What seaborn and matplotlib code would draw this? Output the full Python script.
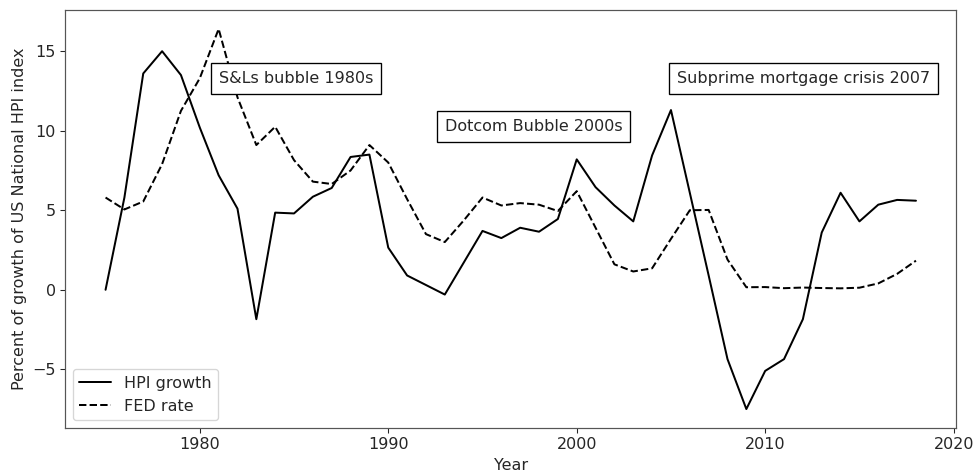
import matplotlib
matplotlib.use("Agg")
import matplotlib.pyplot as plt
import seaborn as sns
import pandas as pd

# Annual figures, 1975-2018
years = list(range(1975, 2019))

hpi_growth = [
    0.0, 5.8, 13.6, 15.0, 13.5, 10.2, 7.2, 5.1, -1.85, 4.85,
    4.8, 5.85, 6.4, 8.35, 8.5, 2.65, 0.9, 0.3, -0.3, 1.7,
    3.7, 3.25, 3.9, 3.65, 4.45, 8.2, 6.45, 5.3, 4.3, 8.45,
    11.3, 6.1, 0.9, -4.36, -7.5, -5.1, -4.36, -1.85, 3.6, 6.1,
    4.3, 5.35, 5.65, 5.6,
]

fed_rate = [
    5.8, 5.05, 5.55, 7.9, 11.25, 13.3, 16.4, 12.1, 9.1, 10.25,
    8.15, 6.8, 6.65, 7.5, 9.1, 8.0, 5.7, 3.5, 3.0, 4.35,
    5.8, 5.3, 5.45, 5.35, 4.95, 6.2, 3.9, 1.6, 1.15, 1.35,
    3.2, 5.0, 5.02, 1.9, 0.16, 0.17, 0.1, 0.14, 0.11, 0.09,
    0.13, 0.4, 1.0, 1.83,
]

annotations = [
    (1981, 13, "S&Ls bubble 1980s"),
    (1993, 10, "Dotcom Bubble 2000s"),
    (2005.3, 13, "Subprime mortgage crisis 2007"),
]

df = pd.DataFrame({"Year": years, "HPI growth": hpi_growth, "FED rate": fed_rate})

sns.set_style("ticks")
plt.rcParams["font.family"] = ["DejaVu Sans"]
plt.rcParams["font.size"] = 12

fig = plt.figure(figsize=(978 / 96, 473 / 96), dpi=96)
ax = fig.add_axes([0.0665, 0.095, 0.9115, 0.884])

sns.lineplot(data=df, x="Year", y="HPI growth", color="black", linestyle="-",
             linewidth=1.5, label="HPI growth", ax=ax)
sns.lineplot(data=df, x="Year", y="FED rate", color="black", linestyle="--",
             linewidth=1.5, label="FED rate", ax=ax)

for x, y, txt in annotations:
    ax.text(x, y, txt, fontsize=12, color="#262626",
            bbox=dict(facecolor="white", edgecolor="black", boxstyle="square,pad=0.5"))

ax.set_xticks([1980, 1990, 2000, 2010, 2020])
ax.set_yticks([-5, 0, 5, 10, 15])
ax.tick_params(labelsize=12, colors="#262626", length=3.5)
for s in ax.spines.values():
    s.set_color("#555555")
    s.set_linewidth(0.9)

ax.set_xlabel("Year", fontsize=12)
ax.set_ylabel("Percent of growth of US National HPI index", fontsize=12)
ax.legend(loc="lower left", fontsize=12, frameon=True)

fig.savefig("out.png", dpi=96)
